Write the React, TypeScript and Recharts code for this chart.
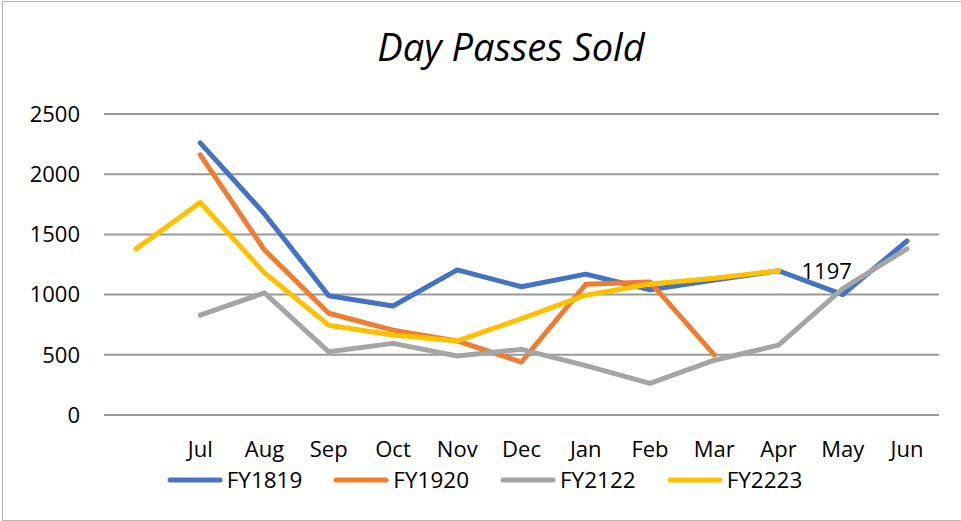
import React from "react";
import { CartesianGrid, Legend, LabelList, Line, LineChart, XAxis, YAxis } from "recharts";

const months = ["", "Jul", "Aug", "Sep", "Oct", "Nov", "Dec", "Jan", "Feb", "Mar", "Apr", "May", "Jun"];
const fy1819 = [null, 2260, 1670, 990, 905, 1205, 1065, 1170, 1040, 1120, 1198, 1000, 1445];
const fy1920 = [null, 2160, 1370, 845, 705, 615, 440, 1085, 1105, 500, null, null, null];
const fy2122 = [null, 830, 1015, 525, 595, 490, 545, 410, 262, 455, 580, 1050, 1380];
const fy2223 = [1380, 1765, 1180, 745, 665, 615, 800, 995, 1088, 1135, 1197, null, null];
const yTicks = [0, 500, 1000, 1500, 2000, 2500];

const data = months.map((m, i) => ({
  month: m,
  fy1819: fy1819[i],
  fy1920: fy1920[i],
  fy2122: fy2122[i],
  fy2223: fy2223[i],
}));

// only the last FY2223 point carries a data label
const lastYellow = fy2223.reduce((acc: number, v, i) => (v != null ? i : acc), -1);

const font = '"Open Sans", sans-serif';

function LegendRow(props: any) {
  const items = props.payload || [];
  return (
    <div style={{ display: "flex", justifyContent: "center", paddingLeft: 8, fontFamily: font, fontSize: 22.5, color: "#000" }}>
      {items.map((it: any, i: number) => (
        <div key={it.value} style={{ display: "flex", alignItems: "center", marginRight: i < items.length - 1 ? 31 : 0 }}>
          <svg width={56} height={12}>
            <line x1={3} y1={6} x2={53} y2={6} stroke={it.color} strokeWidth={5} strokeLinecap="round" />
          </svg>
          <span style={{ marginLeft: 4, lineHeight: "30px" }}>{it.value}</span>
        </div>
      ))}
    </div>
  );
}

function EndLabel(props: any) {
  const { x, y, value, index } = props;
  if (index !== lastYellow) return null;
  return (
    <text x={x + 23} y={y} dy="0.35em" fontSize={22} fontFamily={font} fill="#000">
      {value}
    </text>
  );
}

export default function App() {
  return (
    <div style={{ position: "absolute", left: 0, top: 0, width: 961, height: 521, background: "#fff", overflow: "hidden" }}>
      <div style={{ position: "absolute", left: 2, top: 1, width: 1000, height: 520, boxSizing: "border-box", border: "1px solid #b4b4b4" }} />
      <div style={{ position: "absolute", left: 0, top: 27, width: 1022, textAlign: "center", fontFamily: font, fontSize: 38, fontStyle: "italic", lineHeight: 1, color: "#000" }}>
        Day Passes Sold
      </div>
      <LineChart width={961} height={521} data={data} margin={{ top: 114, right: 22, bottom: 26, left: 0 }} style={{ position: "absolute", left: 0, top: 0 }}>
        <CartesianGrid stroke="#999999" strokeWidth={2} vertical={false} />
        <XAxis
          dataKey="month"
          axisLine={false}
          tickLine={false}
          padding={{ left: 32, right: 32 }}
          height={50}
          tickMargin={20}
          interval={0}
          tick={{ fontSize: 22, fontFamily: font, fill: "#000" }}
        />
        <YAxis
          domain={[0, 2500]}
          ticks={yTicks}
          width={104}
          axisLine={false}
          tickLine={false}
          tickMargin={18}
          tick={{ fontSize: 22, fontFamily: font, fill: "#000" }}
        />
        <Legend verticalAlign="bottom" height={30} content={LegendRow} wrapperStyle={{ left: 0, width: 961 }} />
        <Line dataKey="fy1819" name="FY1819" stroke="#4472C4" strokeWidth={5} strokeLinejoin="round" strokeLinecap="round" dot={false} activeDot={false} isAnimationActive={false} />
        <Line dataKey="fy1920" name="FY1920" stroke="#ED7D31" strokeWidth={5} strokeLinejoin="round" strokeLinecap="round" dot={false} activeDot={false} isAnimationActive={false} />
        <Line dataKey="fy2122" name="FY2122" stroke="#A5A5A5" strokeWidth={5} strokeLinejoin="round" strokeLinecap="round" dot={false} activeDot={false} isAnimationActive={false} />
        <Line dataKey="fy2223" name="FY2223" stroke="#FFC000" strokeWidth={5} strokeLinejoin="round" strokeLinecap="round" dot={false} activeDot={false} isAnimationActive={false}>
          <LabelList dataKey="fy2223" content={EndLabel} />
        </Line>
      </LineChart>
    </div>
  );
}
